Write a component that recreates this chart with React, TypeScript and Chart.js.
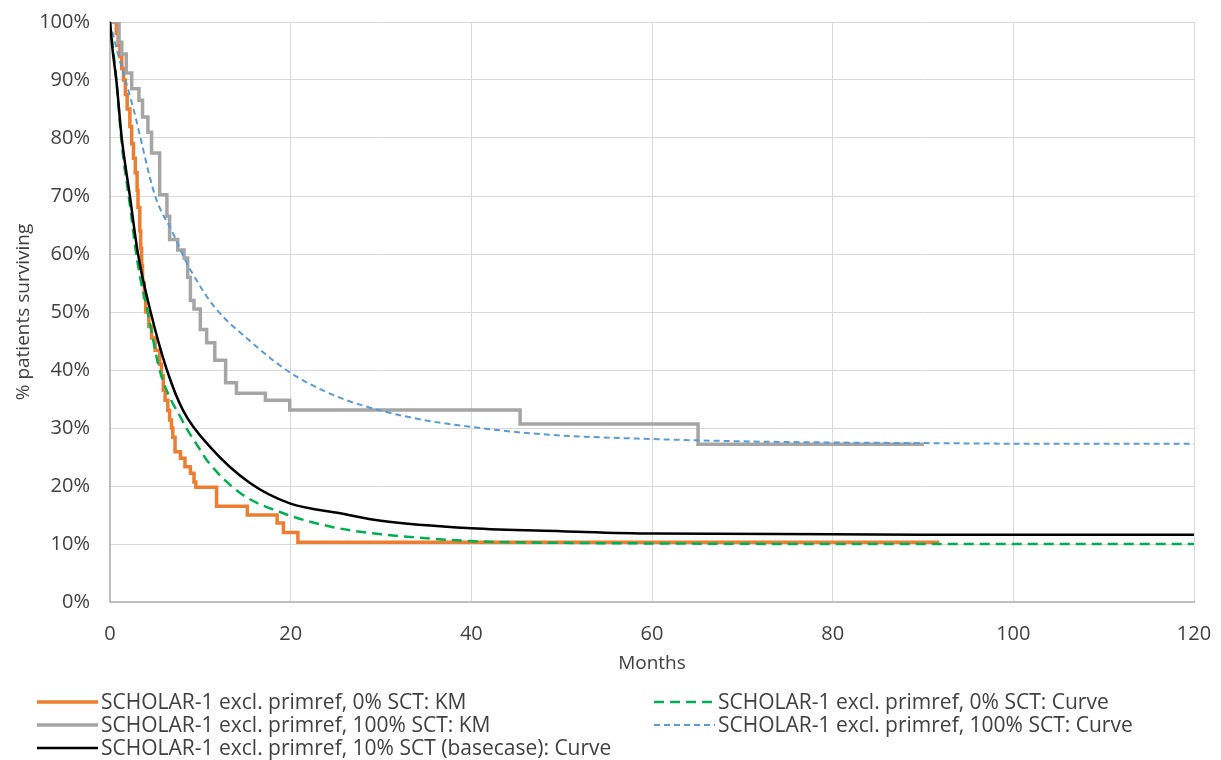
import { useEffect, useRef } from 'react';
import { Chart, registerables } from 'chart.js';

Chart.register(...registerables);

// Kaplan-Meier step data, 0% SCT (months, % surviving after each drop)
const km0Months = [0, 0.7, 0.9, 1.1, 1.3, 1.5, 1.7, 1.9, 2.2, 2.4, 2.6, 2.8, 3.0, 3.1, 3.3, 3.4, 3.5, 3.6, 3.8, 3.95, 4.3, 4.6, 5.0, 5.5, 5.7, 5.9, 6.1, 6.4, 6.6, 6.8, 6.95, 7.2, 7.8, 8.3, 8.9, 9.3, 9.5, 11.8, 15.2, 18.5, 19.2, 20.8, 91.8];
const km0Surv = [100, 98, 96, 94, 92, 90, 87.5, 85, 82, 79, 76.5, 74, 71, 68, 64, 61, 58, 55, 52.5, 50, 47.5, 45.5, 43.4, 41, 39, 36.5, 34.8, 33, 31.4, 30, 28.4, 25.9, 24.8, 23.3, 22.2, 20.7, 19.8, 16.5, 15.0, 13.6, 12.0, 10.3, 10.3];

// Kaplan-Meier step data, 100% SCT
const km100Months = [0, 1.0, 1.3, 1.8, 2.4, 3.2, 3.6, 4.2, 4.6, 5.5, 6.3, 6.6, 7.5, 8.2, 8.6, 8.9, 9.3, 10.0, 10.7, 11.6, 12.8, 14.0, 17.2, 19.9, 45.4, 65.1, 90.1];
const km100Surv = [100, 96.5, 94.5, 91.2, 88.5, 86.5, 83.6, 81, 77.4, 70.2, 66.5, 62.5, 60.7, 59.3, 56, 52, 50.5, 47, 44.7, 41.7, 37.8, 36.0, 34.8, 33.1, 30.7, 27.2, 27.2];

// Fitted curve, 0% SCT
const fit0Months = [0, 0.7, 1.3, 2.2, 3.0, 4.3, 5.5, 8.1, 10.0, 10.7, 14.4, 19.2, 24.7, 30, 40, 50, 60, 80, 100, 120];
const fit0Surv = [100, 90, 79, 68.5, 59, 49, 40, 31, 26.2, 24.5, 18.8, 15.3, 12.9, 11.7, 10.5, 10.2, 10.1, 10.0, 10.0, 10.0];

// Fitted curve, 100% SCT
const fit100Months = [0, 0.8, 2.6, 5, 7, 8, 9, 11.5, 15.5, 20, 25, 30, 35, 40, 45, 50, 60, 70, 80, 90, 100, 120];
const fit100Surv = [100, 95, 85, 70, 63.5, 60, 57, 51, 45, 39.5, 35.5, 33, 31.3, 30.2, 29.3, 28.7, 28.1, 27.7, 27.5, 27.4, 27.3, 27.3];

// Fitted curve, 10% SCT (base case)
const fitBaseMonths = [0, 0.3, 0.7, 1.3, 2.2, 3.1, 4.5, 6.3, 8.1, 11.1, 15.5, 19.9, 25.5, 30, 40, 50, 60, 80, 90, 120];
const fitBaseSurv = [100, 95, 90, 80, 70, 60, 50, 40, 33, 26.7, 20.5, 17, 15.3, 14, 12.7, 12.2, 11.8, 11.7, 11.6, 11.6];

const xTicks = [0, 20, 40, 60, 80, 100, 120];

const seriesLabels = [
  'SCHOLAR-1 excl. primref, 0% SCT: KM',
  'SCHOLAR-1 excl. primref, 0% SCT: Curve',
  'SCHOLAR-1 excl. primref, 100% SCT: KM',
  'SCHOLAR-1 excl. primref, 100% SCT: Curve',
  'SCHOLAR-1 excl. primref, 10% SCT (basecase): Curve',
];

const FONT = '"Open Sans", sans-serif';
const TEXT = '#404040';

const toPoints = (xs: number[], ys: number[]) => xs.map((x, i) => ({ x, y: ys[i] }));

// Two-column legend below the axis, filled row by row
const gridLegend = {
  id: 'gridLegend',
  afterDraw(chart: any) {
    const { ctx } = chart;
    const colX = [37, 654];
    const top = chart.height - 58;
    ctx.save();
    ctx.font = `21px ${FONT}`;
    ctx.textBaseline = 'middle';
    ctx.textAlign = 'left';
    chart.data.datasets.forEach((ds: any, i: number) => {
      const x = colX[i % 2];
      const y = top + Math.floor(i / 2) * 23;
      ctx.beginPath();
      ctx.strokeStyle = ds.borderColor;
      ctx.lineWidth = ds.borderWidth;
      ctx.setLineDash(ds.borderDash || []);
      ctx.moveTo(x, y);
      ctx.lineTo(x + 61, y);
      ctx.stroke();
      ctx.setLineDash([]);
      ctx.fillStyle = TEXT;
      ctx.fillText(ds.label, x + 64, y + 1);
    });
    ctx.restore();
  },
};

export default function App() {
  const canvasRef = useRef<HTMLCanvasElement | null>(null);

  useEffect(() => {
    if (!canvasRef.current) return;
    const common = { pointRadius: 0, pointHoverRadius: 0, fill: false };
    const chart = new Chart(canvasRef.current, {
      type: 'line',
      data: {
        datasets: [
          { ...common, label: seriesLabels[0], data: toPoints(km0Months, km0Surv), borderColor: '#ED7D31', borderWidth: 3.5, stepped: true, order: 5 },
          { ...common, label: seriesLabels[1], data: toPoints(fit0Months, fit0Surv), borderColor: '#00B050', borderWidth: 2.5, borderDash: [10, 6], cubicInterpolationMode: 'monotone', order: 4 },
          { ...common, label: seriesLabels[2], data: toPoints(km100Months, km100Surv), borderColor: '#A5A5A5', borderWidth: 3.5, stepped: true, order: 3 },
          { ...common, label: seriesLabels[3], data: toPoints(fit100Months, fit100Surv), borderColor: '#5B9BD5', borderWidth: 2, borderDash: [6, 4], cubicInterpolationMode: 'monotone', order: 2 },
          { ...common, label: seriesLabels[4], data: toPoints(fitBaseMonths, fitBaseSurv), borderColor: '#000000', borderWidth: 2.5, cubicInterpolationMode: 'monotone', order: 1 },
        ] as any,
      },
      options: {
        animation: false,
        responsive: true,
        maintainAspectRatio: false,
        parsing: false as any,
        layout: { padding: { left: 0, right: 27, top: 22, bottom: 78 } },
        plugins: { legend: { display: false }, tooltip: { enabled: false } },
        scales: {
          x: {
            type: 'linear',
            min: 0,
            max: 120,
            afterBuildTicks: (scale: any) => {
              scale.ticks = xTicks.map((v) => ({ value: v }));
            },
            afterFit: (scale: any) => {
              scale.height = 80;
              scale.paddingLeft = 0;
              scale.paddingRight = 0;
            },
            grid: { color: '#d9d9d9', lineWidth: 1, drawTicks: false },
            border: { color: '#bfbfbf', width: 2 },
            ticks: { padding: 20, color: TEXT, font: { family: FONT, size: 20 } },
            title: { display: true, text: 'Months', color: TEXT, font: { family: FONT, size: 19 }, padding: { top: 4, bottom: 7 } },
          },
          y: {
            type: 'linear',
            min: 0,
            max: 100,
            afterFit: (scale: any) => {
              scale.width = 110;
              scale.paddingTop = 0;
              scale.paddingBottom = 0;
            },
            grid: { color: '#d9d9d9', lineWidth: 1, drawTicks: false },
            border: { color: '#bfbfbf', width: 2 },
            ticks: {
              stepSize: 10,
              padding: 20,
              color: TEXT,
              font: { family: FONT, size: 20 },
              callback: (v: any) => `${v}%`,
            },
            title: { display: true, text: '% patients surviving', color: TEXT, font: { family: FONT, size: 19 }, padding: { top: 12, bottom: 4 } },
          },
        },
      } as any,
      plugins: [gridLegend],
    });
    return () => chart.destroy();
  }, []);

  return (
    <div style={{ position: 'fixed', left: 0, top: 0, width: 1221, height: 760, background: '#fff' }}>
      <canvas ref={canvasRef} />
    </div>
  );
}
